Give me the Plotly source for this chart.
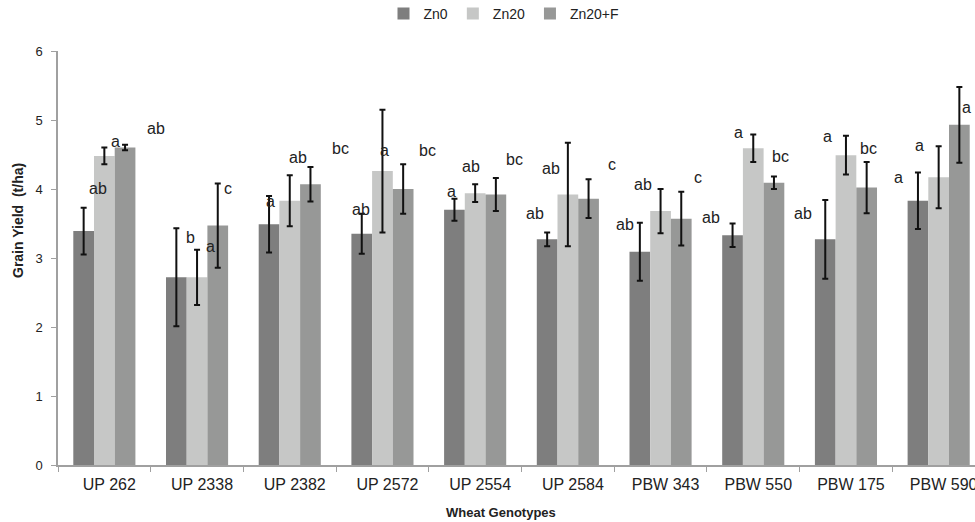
import plotly.graph_objects as go

genotypes = ["UP 262", "UP 2338", "UP 2382", "UP 2572", "UP 2554",
             "UP 2584", "PBW 343", "PBW 550", "PBW 175", "PBW 590"]
zn0 = [3.39, 2.72, 3.49, 3.35, 3.70, 3.27, 3.09, 3.33, 3.27, 3.83]
zn0_err = [0.34, 0.71, 0.41, 0.29, 0.16, 0.10, 0.42, 0.17, 0.57, 0.41]
zn20 = [4.48, 2.72, 3.83, 4.26, 3.94, 3.92, 3.68, 4.59, 4.49, 4.17]
zn20_err = [0.12, 0.40, 0.37, 0.89, 0.13, 0.75, 0.32, 0.20, 0.28, 0.45]
zn20f = [4.60, 3.47, 4.07, 4.00, 3.92, 3.86, 3.57, 4.09, 4.02, 4.93]
zn20f_err = [0.04, 0.61, 0.25, 0.36, 0.24, 0.28, 0.39, 0.09, 0.37, 0.55]

# significance letters (as printed), with the category each sits on
sig_letters = ["ab", "a", "ab", "b", "a", "c", "a", "ab", "bc", "ab", "a", "bc",
               "a", "ab", "bc", "ab", "ab", "c", "ab", "ab", "c", "ab", "a", "bc",
               "ab", "a", "bc", "a", "a", "a"]
sig_cat = [0, 0, 0, 1, 1, 1, 2, 2, 2, 3, 3, 3, 4, 4, 4, 5, 5, 5, 6, 6, 6,
           7, 7, 7, 8, 8, 8, 9, 9, 9]
sig_dx = [-0.065, 0.12, 0.56, -0.07, 0.15, 0.33, -0.21, 0.09, 0.55, -0.23, 0.02, 0.49,
          -0.25, -0.04, 0.42, -0.35, -0.18, 0.48, -0.38, -0.19, 0.40, -0.46, -0.16, 0.29,
          -0.46, -0.20, 0.24, -0.43, -0.21, 0.30]
sig_y = [4.01, 4.69, 4.87, 3.29, 3.17, 4.01, 3.82, 4.46, 4.58, 3.71, 4.56, 4.56,
         3.97, 4.32, 4.43, 3.65, 4.30, 4.36, 3.49, 4.07, 4.17, 3.59, 4.82, 4.47,
         3.65, 4.76, 4.58, 4.17, 4.63, 5.18]

FONT = "Liberation Sans, Arial, sans-serif"

series = [("Zn0", zn0, zn0_err, "#7e7e7e"),
          ("Zn20", zn20, zn20_err, "#c6c7c6"),
          ("Zn20+F", zn20f, zn20f_err, "#979897")]

fig = go.Figure()
for name, vals, errs, col in series:
    fig.add_trace(go.Bar(
        name=name, x=genotypes, y=vals,
        marker=dict(color=col, line=dict(width=0)),
        error_y=dict(type="data", array=errs, visible=True,
                     color="#111111", thickness=2, width=3),
    ))

for txt, c, dx, yv in zip(sig_letters, sig_cat, sig_dx, sig_y):
    fig.add_annotation(x=c + dx, y=yv, xref="x", yref="y", text=txt,
                       showarrow=False, font=dict(family=FONT, size=16, color="#222222"))

L, T, B = 58, 51, 57
W, H = 975 - L, 522 - T - B
# axis titles (placed as in the reference)
fig.add_annotation(x=(18 - L) / W, y=(522 - 221 - B) / H, xref="paper", yref="paper",
                   xanchor="center", yanchor="middle",
                   text="<b>Grain Yield\u00a0 (t/ha)</b>", showarrow=False, textangle=-90,
                   font=dict(family=FONT, size=14, color="#222222"))
fig.add_annotation(x=(501 - L) / W, y=(522 - 512 - B) / H, xref="paper", yref="paper",
                   xanchor="center", yanchor="middle",
                   text="<b>Wheat Genotypes</b>", showarrow=False,
                   font=dict(family=FONT, size=13, color="#222222"))

fig.update_layout(
    width=975, height=522,
    margin=dict(l=L, r=0, t=T, b=B, autoexpand=False),
    paper_bgcolor="white", plot_bgcolor="white",
    barmode="group", bargap=0.33, bargroupgap=0,
    font=dict(family=FONT, size=12, color="#222222"),
    legend=dict(orientation="h", x=(504 - L) / W, xanchor="center",
                y=(522 - 14 - B) / H, yanchor="middle",
                font=dict(family=FONT, size=14), itemwidth=30, traceorder="normal"),
    showlegend=True,
)

fig.update_xaxes(
    range=[-0.5, 9.392], showline=True, linecolor="#a0a0a0", linewidth=1.5,
    ticks="outside", tickson="boundaries", ticklen=5, tickcolor="#a0a0a0",
    ticklabelshift=5, ticklabelstandoff=4,
    tickfont=dict(family=FONT, size=16, color="#222222"),
    showgrid=False, zeroline=False, automargin=False,
)
fig.update_yaxes(
    range=[0, 6], dtick=1, showline=True, linecolor="#a0a0a0", linewidth=1.5,
    ticks="outside", ticklen=5, tickcolor="#a0a0a0", ticklabelstandoff=6,
    tickfont=dict(family=FONT, size=13, color="#222222"),
    showgrid=False, zeroline=False, automargin=False,
)

fig.write_html("out.html", config={"displayModeBar": False},
               post_script="document.body.style.margin='0';document.body.style.overflow='hidden';")
